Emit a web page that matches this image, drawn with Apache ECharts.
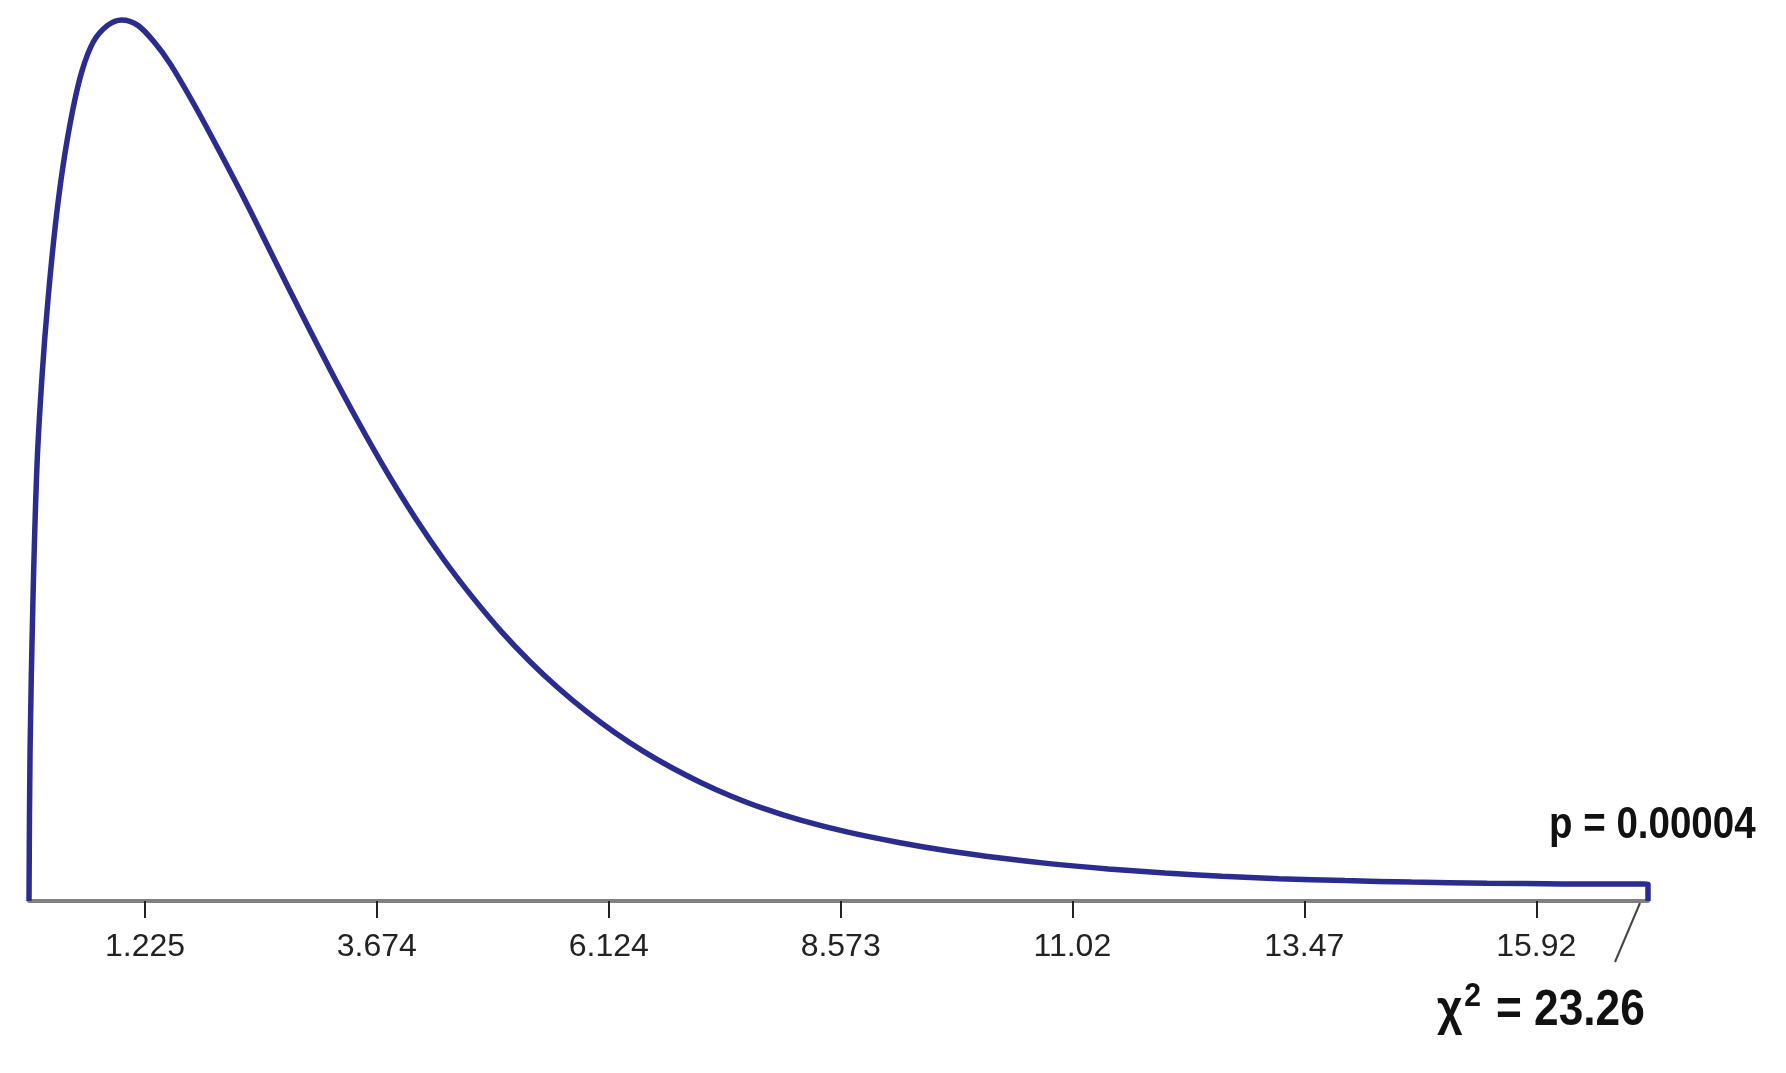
<!DOCTYPE html>
<html>
<head>
<meta charset="utf-8">
<script src="https://cdn.jsdelivr.net/npm/echarts@6/dist/echarts.min.js"></script>
<style>
html,body{margin:0;padding:0;background:#fff;}
#chart{width:1786px;height:1073px;}
</style>
</head>
<body>
<div id="chart"></div>
<script>
// Curve (x = chi-square value, y = density)
const xValues = [0, 0.011, 0.042, 0.085, 0.14, 0.20, 0.28, 0.36, 0.46, 0.56, 0.68, 0.83, 0.98, 1.15, 1.32, 1.49, 1.75, 2.02, 2.30, 2.58, 2.88, 3.18, 3.48, 3.78, 4.08, 4.38, 4.68, 4.99, 5.29, 5.59, 5.89, 6.19, 6.49, 6.79, 7.10, 7.40, 7.75, 8.15, 8.65, 9.2, 9.7, 10.26, 10.8, 11.4, 12.0, 12.6, 13.2, 13.9, 14.6, 15.4, 16.2, 17.1, 17.1];
const densityValues = [0, 0.041, 0.083, 0.120, 0.145, 0.165, 0.186, 0.202, 0.217, 0.228, 0.236, 0.2405, 0.242, 0.2405, 0.236, 0.230, 0.2185, 0.2055, 0.1915, 0.1768, 0.1612, 0.1460, 0.1315, 0.1178, 0.1052, 0.0938, 0.0836, 0.0740, 0.0658, 0.0585, 0.0520, 0.0462, 0.0411, 0.0366, 0.0325, 0.0290, 0.0255, 0.0222, 0.0189, 0.0160, 0.0138, 0.0118, 0.0102, 0.0088, 0.0077, 0.0068, 0.0061, 0.0056, 0.0052, 0.0049, 0.0047, 0.0046, 0];
const tickValues = [1.225, 3.674, 6.124, 8.573, 11.02, 13.47, 15.92];
const tickLabels = ['1.225', '3.674', '6.124', '8.573', '11.02', '13.47', '15.92'];
const pValueLabel = 'p = 0.00004';
const chiSquareValue = '23.26';

const chart = echarts.init(document.getElementById('chart'), null, {renderer: 'canvas'});
const seriesData = xValues.map((x, i) => [x, densityValues[i]]);
const sans = '"Liberation Sans", Arial, sans-serif';

chart.setOption({
  animation: false,
  backgroundColor: '#ffffff',
  grid: {left: 29, right: 138, top: 9, bottom: 172, containLabel: false},
  xAxis: {
    type: 'value', min: 0, max: 17.1,
    axisLine: {show: true, lineStyle: {color: '#808080', width: 4}},
    axisTick: {show: true, customValues: tickValues, length: 17, lineStyle: {color: '#222', width: 2}},
    axisLabel: {
      customValues: tickValues,
      formatter: v => { const i = tickValues.findIndex(t => Math.abs(t - v) < 1e-6); return i >= 0 ? tickLabels[i] : ''; },
      fontFamily: sans, fontSize: 32, color: '#222', margin: 30
    },
    splitLine: {show: false}
  },
  yAxis: {type: 'value', min: 0, max: 0.245, show: false, splitLine: {show: false}},
  series: [{
    type: 'line', data: seriesData, showSymbol: false, smooth: 0.3,
    lineStyle: {color: '#2b2d8e', width: 5.5}, z: 5
  }],
  graphic: [
    {type: 'text', x: 1549, y: 826, scaleX: 0.875, z: 10,
     style: {text: pValueLabel, font: 'bold 44px ' + sans, fill: '#111', align: 'left', verticalAlign: 'middle'}},
    {type: 'text', x: 1437, y: 1008, scaleX: 0.885, z: 10,
     style: {text: '{c|χ}{s|2}{c| = ' + chiSquareValue + '}', fill: '#111', align: 'left', verticalAlign: 'middle',
       rich: {c: {font: 'bold 50px ' + sans, fill: '#111', verticalAlign: 'bottom'},
              s: {font: 'bold 34px ' + sans, fill: '#111', verticalAlign: 'top', padding: [0, 3, 22, 2]}}}},
    {type: 'line', z: 10, shape: {x1: 1640, y1: 903, x2: 1615, y2: 962}, style: {stroke: '#444', lineWidth: 2}}
  ]
});
</script>
</body>
</html>
